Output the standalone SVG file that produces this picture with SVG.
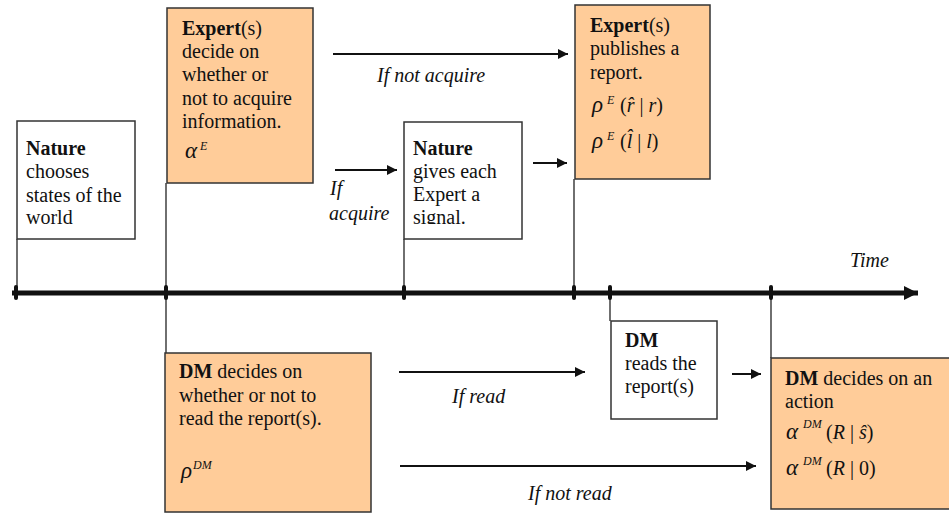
<svg xmlns="http://www.w3.org/2000/svg" width="949" height="514" viewBox="0 0 949 514">
<style>
text{font-family:"Liberation Serif","Times New Roman",serif;font-size:20px;fill:#111}
.b{font-weight:bold}
.i{font-style:italic}
.g{font-style:italic;font-size:23px}
.sup{font-style:italic;font-size:12px}
.peach{fill:#FFCC99;stroke:#333;stroke-width:1.5}
.white{fill:#fff;stroke:#333;stroke-width:1.5}
.conn{stroke:#111;stroke-width:2;fill:none}
.vl{stroke:#222;stroke-width:1.3;fill:none}
.tick{stroke:#111;stroke-width:4;stroke-linecap:round}
</style>
<defs>
<marker id="ah" markerWidth="10" markerHeight="10" refX="10" refY="5" orient="auto" markerUnits="userSpaceOnUse">
<path d="M0,0 L10,5 L0,10 Z" fill="#111"/>
</marker>
<marker id="tah" markerWidth="14" markerHeight="14" refX="14" refY="7" orient="auto" markerUnits="userSpaceOnUse">
<path d="M0,0 L14,7 L0,14 Z" fill="#111"/>
</marker>
<clipPath id="clipN2"><rect x="404" y="122" width="118" height="102"/></clipPath>
</defs>

<g id="connectors">
<line class="vl" x1="17" y1="239" x2="17" y2="293"/>
<line class="vl" x1="166" y1="183" x2="166" y2="353"/>
<line class="vl" x1="404" y1="239" x2="404" y2="293"/>
<line class="vl" x1="574" y1="179" x2="574" y2="293"/>
<line class="vl" x1="610" y1="293" x2="610" y2="321"/>
<line class="vl" x1="771" y1="293" x2="771" y2="358"/>
<line x1="12" y1="293" x2="918" y2="293" stroke="#111" stroke-width="5" marker-end="url(#tah)"/>
<line class="tick" x1="16" y1="287" x2="16" y2="298"/>
<line class="tick" x1="166" y1="287" x2="166" y2="298"/>
<line class="tick" x1="404" y1="287" x2="404" y2="298"/>
<line class="tick" x1="574" y1="287" x2="574" y2="298"/>
<line class="tick" x1="610" y1="287" x2="610" y2="298"/>
<line class="tick" x1="771" y1="287" x2="771" y2="298"/>
<line class="conn" x1="333" y1="54" x2="568" y2="54" marker-end="url(#ah)"/>
<line class="conn" x1="335" y1="170" x2="397" y2="170" marker-end="url(#ah)"/>
<line class="conn" x1="533" y1="163" x2="567" y2="163" marker-end="url(#ah)"/>
<line class="conn" x1="399" y1="372" x2="585" y2="372" marker-end="url(#ah)"/>
<line class="conn" x1="400" y1="466" x2="756" y2="466" marker-end="url(#ah)"/>
<line class="conn" x1="732" y1="374" x2="761" y2="374" marker-end="url(#ah)"/>
<text class="i" x="377" y="82">If not acquire</text>
<text class="i" x="330" y="195">If</text>
<text class="i" x="329" y="220">acquire</text>
<text class="i" x="452" y="403">If read</text>
<text class="i" x="528" y="500">If not read</text>
<text class="i" x="850" y="267">Time</text>
</g>

<g id="nature1">
<rect class="white" x="17" y="121" width="118" height="118"/>
<text x="26" y="155" class="b">Nature</text>
<text x="26" y="178">chooses</text>
<text x="26" y="202">states of the</text>
<text x="26" y="224">world</text>
</g>

<g id="expert1">
<rect class="peach" x="167" y="8" width="146" height="175"/>
<text x="182" y="35"><tspan class="b">Expert</tspan>(s)</text>
<text x="182" y="58">decide on</text>
<text x="182" y="81">whether or</text>
<text x="182" y="105">not to acquire</text>
<text x="182" y="128">information.</text>
<text x="185" y="158" class="g">α</text>
<text x="200" y="150" class="sup">E</text>
</g>

<g id="nature2">
<rect class="white" x="404" y="122" width="118" height="117"/>
<g clip-path="url(#clipN2)">
<text x="413" y="155" class="b">Nature</text>
<text x="413" y="178">gives each</text>
<text x="413" y="201">Expert a</text>
<text x="413" y="224">signal.</text>
</g>
</g>

<g id="expert2">
<rect class="peach" x="575" y="5" width="135" height="174"/>
<text x="590" y="32"><tspan class="b">Expert</tspan>(s)</text>
<text x="590" y="55">publishes a</text>
<text x="590" y="79">report.</text>
<text x="592" y="112" class="g">ρ</text>
<text x="607" y="104" class="sup">E</text>
<text x="620" y="112">(<tspan class="i">r̂</tspan> | <tspan class="i">r</tspan>)</text>
<text x="592" y="148" class="g">ρ</text>
<text x="607" y="140" class="sup">E</text>
<text x="620" y="148">(<tspan class="i">l̂</tspan> | <tspan class="i">l</tspan>)</text>
</g>

<g id="dm1">
<rect class="peach" x="165" y="353" width="206" height="159"/>
<text x="179" y="378"><tspan class="b">DM</tspan> decides on</text>
<text x="179" y="402">whether or not to</text>
<text x="179" y="425">read the report(s).</text>
<text x="181" y="478" class="g">ρ</text>
<text x="193" y="469" class="sup">DM</text>
</g>

<g id="dmreads">
<rect class="white" x="611" y="321" width="106" height="98"/>
<text x="625" y="347" class="b">DM</text>
<text x="625" y="370">reads the</text>
<text x="625" y="393">report(s)</text>
</g>

<g id="dmfinal">
<rect class="peach" x="771" y="358" width="190" height="151"/>
<text x="785" y="385"><tspan class="b">DM</tspan> decides on an</text>
<text x="785" y="408">action</text>
<text x="786" y="439" class="g">α</text>
<text x="803" y="428" class="sup">DM</text>
<text x="826" y="439">(<tspan class="i">R</tspan> | <tspan class="i">ŝ</tspan>)</text>
<text x="786" y="475" class="g">α</text>
<text x="803" y="465" class="sup">DM</text>
<text x="826" y="475">(<tspan class="i">R</tspan> | 0)</text>
</g>
</svg>
